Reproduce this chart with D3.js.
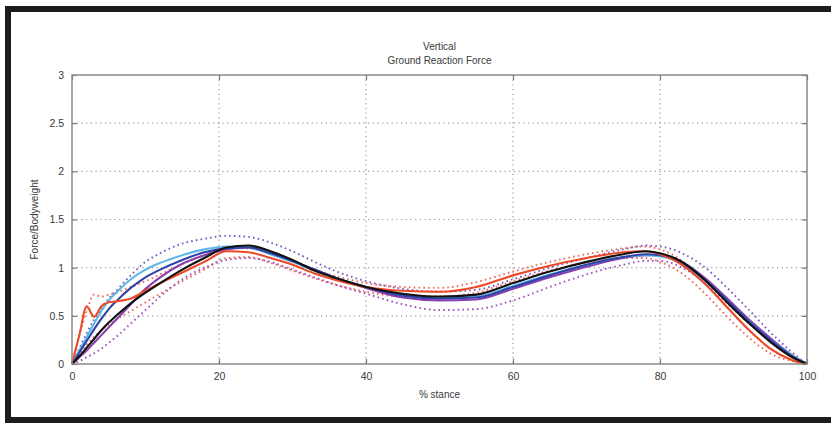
<!DOCTYPE html>
<html>
<head>
<meta charset="utf-8">
<script src="https://cdn.jsdelivr.net/npm/d3@7"></script>
<style>
  body { margin: 0; background: #fff; }
  svg { display: block; }
  text { font-family: "Liberation Sans", Arial, sans-serif; fill: #3a3a3a; }
</style>
</head>
<body>
<div class="grf"></div>
<script>
////////////////////////////////// data

// % stance sample points
var stance = [0,1,2,3,4,5,6,8,10,12,15,18,21,24,27,30,33,36,40,45,50,55,60,65,70,75,78,80,83,86,89,92,95,98,100];

// solid means, force / bodyweight
var red    = [0,0.3,0.6,0.49,0.6,0.64,0.65,0.68,0.76,0.84,0.95,1.06,1.17,1.16,1.1,1.03,0.94,0.87,0.8,0.76,0.75,0.8,0.92,1.02,1.1,1.16,1.17,1.14,1.03,0.84,0.6,0.36,0.16,0.04,0];
var black  = [0,0.08,0.17,0.26,0.35,0.43,0.5,0.63,0.74,0.84,0.98,1.1,1.21,1.23,1.17,1.08,0.97,0.89,0.8,0.73,0.7,0.72,0.84,0.96,1.06,1.14,1.17,1.15,1.06,0.88,0.65,0.43,0.23,0.07,0];
var blue   = [0,0.12,0.24,0.36,0.47,0.57,0.65,0.79,0.9,0.98,1.08,1.16,1.2,1.21,1.15,1.07,0.98,0.89,0.8,0.71,0.68,0.69,0.8,0.92,1.03,1.11,1.14,1.13,1.05,0.88,0.67,0.45,0.25,0.08,0];
var cyan   = [0,0.14,0.28,0.42,0.55,0.66,0.74,0.88,0.98,1.05,1.13,1.19,1.22,1.21,1.14,1.06,0.97,0.89,0.8,0.72,0.69,0.7,0.81,0.93,1.03,1.11,1.13,1.12,1.04,0.87,0.66,0.45,0.25,0.09,0];
var purple = [0,0.07,0.14,0.22,0.3,0.38,0.46,0.62,0.78,0.9,1.04,1.13,1.19,1.21,1.15,1.07,0.98,0.89,0.79,0.69,0.66,0.67,0.78,0.9,1.01,1.1,1.13,1.13,1.06,0.9,0.69,0.47,0.27,0.09,0];

// dotted bands
var redUpper    = [0,0.3,0.55,0.72,0.7,0.72,0.74,0.8,0.86,0.93,1.04,1.13,1.2,1.2,1.14,1.06,0.98,0.91,0.84,0.8,0.79,0.85,0.96,1.06,1.14,1.2,1.22,1.19,1.07,0.86,0.6,0.36,0.16,0.04,0];
var redLower    = [0,0.1,0.2,0.28,0.35,0.41,0.46,0.55,0.64,0.73,0.86,0.98,1.1,1.11,1.05,0.97,0.89,0.82,0.75,0.7,0.7,0.74,0.86,0.97,1.05,1.1,1.1,1.06,0.94,0.74,0.5,0.28,0.11,0.03,0];
var purpleUpper = [0,0.16,0.32,0.46,0.58,0.68,0.76,0.92,1.06,1.15,1.25,1.3,1.33,1.32,1.26,1.17,1.06,0.96,0.86,0.78,0.75,0.77,0.88,1.0,1.1,1.19,1.23,1.22,1.15,1.01,0.8,0.57,0.33,0.12,0];
var purpleLower = [0,0.03,0.07,0.11,0.16,0.22,0.28,0.42,0.56,0.7,0.88,1.0,1.08,1.1,1.06,0.98,0.9,0.82,0.73,0.62,0.56,0.57,0.66,0.8,0.93,1.03,1.07,1.07,1.0,0.85,0.64,0.43,0.24,0.08,0];

var xTicks = [0,20,40,60,80,100];
var yTicks = [0,0.5,1,1.5,2,2.5,3];
var yTickLabels = ["0","0.5","1","1.5","2","2.5","3"];

////////////////////////////////// drawing

var width = 831, height = 423;
var margin = { top: 75, right: 24, bottom: 59, left: 72 };
var plot_w = width - margin.left - margin.right;
var plot_h = height - margin.top - margin.bottom;

var svg = d3.select(".grf").append("svg").attr("width", width).attr("height", height);

// dark frame round the figure (no right edge)
svg.append("rect").attr("x", 5).attr("y", 6).attr("width", 826).attr("height", 6).attr("fill", "#1c1c1c");
svg.append("rect").attr("x", 5).attr("y", 6).attr("width", 6).attr("height", 417).attr("fill", "#1c1c1c");
svg.append("rect").attr("x", 5).attr("y", 417).attr("width", 826).attr("height", 6).attr("fill", "#1c1c1c");

var x = d3.scaleLinear().domain([0, 100]).range([0, plot_w]);
var y = d3.scaleLinear().domain([0, 3]).range([plot_h, 0]);

var chart = svg.append("g").attr("transform", "translate(" + margin.left + "," + margin.top + ")");

// dotted grid
chart.append("g").selectAll("line").data(xTicks.slice(1, -1)).enter().append("line")
    .attr("x1", function(d){ return x(d); }).attr("x2", function(d){ return x(d); })
    .attr("y1", 0).attr("y2", plot_h)
    .style("stroke", "#9a9a9a").style("stroke-dasharray", "1.2,3.5").style("stroke-width", 1.2);
chart.append("g").selectAll("line").data(yTicks.slice(1, -1)).enter().append("line")
    .attr("y1", function(d){ return y(d); }).attr("y2", function(d){ return y(d); })
    .attr("x1", 0).attr("x2", plot_w)
    .style("stroke", "#9a9a9a").style("stroke-dasharray", "1.2,3.5").style("stroke-width", 1.2);

// axes, MATLAB style ticks pointing in
chart.append("g").attr("transform", "translate(0," + plot_h + ")")
    .call(d3.axisBottom(x).tickValues(xTicks).tickSize(-5).tickPadding(9));
chart.append("g")
    .call(d3.axisLeft(y).tickValues(yTicks).tickFormat(function(d, i){ return yTickLabels[i]; }).tickSize(-5).tickPadding(8));
chart.append("g").call(d3.axisTop(x).tickValues(xTicks).tickSize(-5).tickFormat(""));
chart.append("g").attr("transform", "translate(" + plot_w + ",0)")
    .call(d3.axisRight(y).tickValues(yTicks).tickSize(-5).tickFormat(""));

chart.selectAll(".domain").style("stroke", "none");
chart.selectAll(".tick line").style("stroke", "#777").style("stroke-width", 1.2);
chart.selectAll(".tick text").style("font-size", "10.5px").style("fill", "#3a3a3a");

// curves
var line = d3.line()
    .x(function(d){ return x(d[0]); })
    .y(function(d){ return y(d[1]); })
    .curve(d3.curveMonotoneX);

function pairs(vals){
    return stance.map(function(s, i){ return [s, vals[i]]; });
}

var dotted = [
    { vals: redLower, color: "#ee6a5a" },
    { vals: purpleLower, color: "#a050c0" },
    { vals: redUpper, color: "#ee6a5a" },
    { vals: purpleUpper, color: "#7a58c0" }
];
var solid = [
    { vals: purple, color: "#8a3fb0" },
    { vals: cyan, color: "#5fb8e6" },
    { vals: blue, color: "#2f44a8" },
    { vals: red, color: "#ec4a26" },
    { vals: black, color: "#111111" }
];

chart.selectAll(".band").data(dotted).enter().append("path")
    .attr("class", "band")
    .attr("d", function(d){ return line(pairs(d.vals)); })
    .style("fill", "none").style("stroke", function(d){ return d.color; })
    .style("stroke-width", 1.9).style("stroke-dasharray", "1.6,3.2");

chart.selectAll(".mean").data(solid).enter().append("path")
    .attr("class", "mean")
    .attr("d", function(d){ return line(pairs(d.vals)); })
    .style("fill", "none").style("stroke", function(d){ return d.color; })
    .style("stroke-width", 2.1);

// plot box
chart.append("rect").attr("x", 0).attr("y", 0).attr("width", plot_w).attr("height", plot_h)
    .style("fill", "none").style("stroke", "#8a8a8a").style("stroke-width", 1.5);

// titles and labels
svg.append("text").attr("x", margin.left + plot_w / 2).attr("y", 50).attr("text-anchor", "middle")
    .style("font-size", "10px").text("Vertical");
svg.append("text").attr("x", margin.left + plot_w / 2).attr("y", 64).attr("text-anchor", "middle")
    .style("font-size", "10px").text("Ground Reaction Force");
svg.append("text").attr("x", margin.left + plot_w / 2).attr("y", 398).attr("text-anchor", "middle")
    .style("font-size", "10px").text("% stance");
svg.append("text").attr("transform", "translate(38," + (margin.top + plot_h / 2) + ") rotate(-90)")
    .attr("text-anchor", "middle").style("font-size", "10px").text("Force/Bodyweight");
</script>
</body>
</html>
